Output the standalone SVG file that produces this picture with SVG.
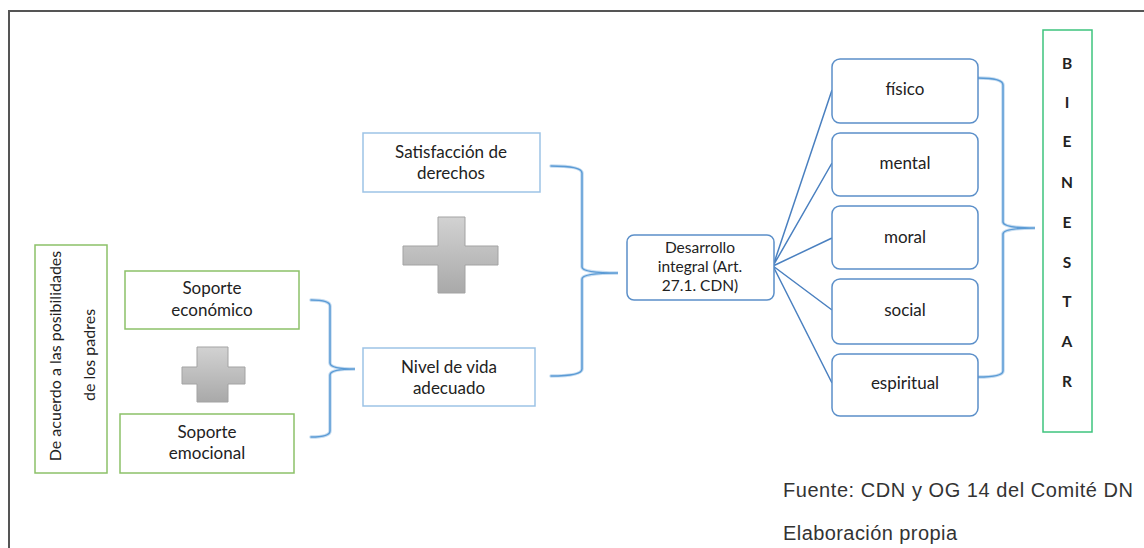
<svg xmlns="http://www.w3.org/2000/svg" width="1144" height="548" viewBox="0 0 1144 548">
<defs>
<linearGradient id="gplus" x1="0" y1="0" x2="0" y2="1">
<stop offset="0" stop-color="#d2d2d2"/>
<stop offset="1" stop-color="#a9a9a9"/>
</linearGradient>
<style>
.t{font-family:Lato,"Liberation Sans",sans-serif;font-size:17px;fill:#222;text-anchor:middle}
.td{font-family:Lato,"Liberation Sans",sans-serif;font-size:15.5px;fill:#222;text-anchor:middle}
.tv{font-family:Lato,"Liberation Sans",sans-serif;font-size:16px;fill:#222;text-anchor:middle}
.gbox{fill:#fff;stroke:#8cc168;stroke-width:1.5}
.lbbox{fill:#fff;stroke:#9dc3e6;stroke-width:1.5}
.rbox{fill:#fff;stroke:#5b8fc9;stroke-width:1.5}
.plus{fill:url(#gplus);stroke:#a3a3a3;stroke-width:1}
.brG{fill:none;stroke:#c5dcf1;stroke-width:3.5;stroke-linecap:round}
.br{fill:none;stroke:#5b9bd5;stroke-width:1.5;stroke-linecap:round}
.fan{fill:none;stroke:#4a80c0;stroke-width:1.5}
.letter{font-family:Lato,"Liberation Sans",sans-serif;font-size:15.5px;font-weight:bold;fill:#222;text-anchor:middle}
.foot{font-family:"Liberation Sans",Arial,sans-serif;font-size:20px;fill:#333}
</style>
</defs>
<rect width="1144" height="548" fill="#fff"/>
<rect x="9" y="11" width="1150" height="560" fill="none" stroke="#555" stroke-width="2"/>

<g id="connectors">
<path class="brG" d="M311,300 Q330,300 330,306 L330,363 Q330,369 355,369 Q330,369 330,375 L330,431 Q330,437 311,437"/>
<path class="br" d="M311,300 Q330,300 330,306 L330,363 Q330,369 355,369 Q330,369 330,375 L330,431 Q330,437 311,437"/>
<path class="brG" d="M551,166 Q582,166 582,173 L582,267 Q582,273 618,273 Q582,273 582,279 L582,369 Q582,376 551,376"/>
<path class="br" d="M551,166 Q582,166 582,173 L582,267 Q582,273 618,273 Q582,273 582,279 L582,369 Q582,376 551,376"/>
<path class="brG" d="M978,78 Q1003,78 1003,85 L1003,222 Q1003,228 1035,228 Q1003,228 1003,234 L1003,371 Q1003,377 978,377"/>
<path class="br" d="M978,78 Q1003,78 1003,85 L1003,222 Q1003,228 1035,228 Q1003,228 1003,234 L1003,371 Q1003,377 978,377"/>
<path class="fan" d="M773,266 L832,90 M773,266 L832,163 M773,266 L832,238 M773,266 L832,310 M773,266 L832,383"/>
</g>

<g id="n-padres">
<rect class="gbox" x="35" y="245" width="72" height="228"/>
<text class="tv" transform="translate(55,356) rotate(-90)" dy="6">De acuerdo a las posibilidades</text>
<text class="tv" transform="translate(89,355) rotate(-90)" dy="6">de los padres</text>
</g>

<g id="n-economico">
<rect class="gbox" x="125" y="271" width="174" height="58"/>
<text class="t" x="212" y="294">Soporte</text>
<text class="t" x="212" y="316">económico</text>
</g>

<g id="plus-small">
<path class="plus" d="M197,347 H228 V367 H245 V384 H228 V402 H197 V384 H182 V367 H197 Z"/>
</g>

<g id="n-emocional">
<rect class="gbox" x="120" y="414" width="174" height="59"/>
<text class="t" x="207" y="438">Soporte</text>
<text class="t" x="207" y="459">emocional</text>
</g>

<g id="n-satisfaccion">
<rect class="lbbox" x="363" y="133" width="177" height="59"/>
<text class="t" x="451" y="158">Satisfacción de</text>
<text class="t" x="451" y="179">derechos</text>
</g>

<g id="plus-big">
<path class="plus" d="M438,217 H465 V246 H498 V265 H465 V293 H438 V265 H403 V246 H438 Z"/>
</g>

<g id="n-nivel">
<rect class="lbbox" x="363" y="348" width="172" height="58"/>
<text class="t" x="449" y="373">Nivel de vida</text>
<text class="t" x="449" y="394">adecuado</text>
</g>

<g id="n-desarrollo">
<rect class="rbox" x="627" y="235" width="147" height="65" rx="7"/>
<text class="td" x="700" y="253">Desarrollo</text>
<text class="td" x="700" y="272">integral (Art.</text>
<text class="td" x="700" y="291">27.1. CDN)</text>
</g>

<g id="n-fisico">
<rect class="rbox" x="832" y="59" width="146" height="64" rx="8"/>
<text class="t" x="905" y="95">físico</text>
</g>
<g id="n-mental">
<rect class="rbox" x="832" y="133" width="146" height="63" rx="8"/>
<text class="t" x="905" y="169">mental</text>
</g>
<g id="n-moral">
<rect class="rbox" x="832" y="206" width="146" height="63" rx="8"/>
<text class="t" x="905" y="243">moral</text>
</g>
<g id="n-social">
<rect class="rbox" x="832" y="279" width="146" height="65" rx="8"/>
<text class="t" x="905" y="316">social</text>
</g>
<g id="n-espiritual">
<rect class="rbox" x="832" y="354" width="146" height="62" rx="8"/>
<text class="t" x="905" y="389">espiritual</text>
</g>

<g id="n-bienestar">
<rect x="1043" y="30" width="49" height="402" fill="#fff" stroke="#3ec47e" stroke-width="1.5"/>
<text class="letter" x="1067" y="69">B</text>
<text class="letter" x="1067" y="108">I</text>
<text class="letter" x="1067" y="147">E</text>
<text class="letter" x="1067" y="188">N</text>
<text class="letter" x="1067" y="228">E</text>
<text class="letter" x="1067" y="268">S</text>
<text class="letter" x="1067" y="307">T</text>
<text class="letter" x="1067" y="347">A</text>
<text class="letter" x="1067" y="387">R</text>
</g>

<g id="footer">
<text class="foot" x="783" y="497" textLength="350" lengthAdjust="spacing">Fuente: CDN y OG 14 del Comité DN</text>
<text class="foot" x="783" y="540" textLength="174" lengthAdjust="spacing">Elaboración propia</text>
</g>
</svg>
